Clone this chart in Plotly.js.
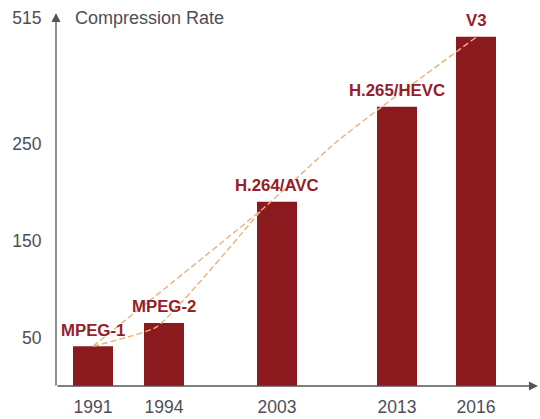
<!DOCTYPE html>
<html>
<head>
<meta charset="utf-8">
<script src="https://cdn.plot.ly/plotly-3.0.1.min.js"></script>
<style>html,body{margin:0;padding:0;background:#fff;}#chart{width:540px;height:419px;}</style>
</head>
<body>
<div id="chart"></div>
<script>
// ---- data ----
const years = ['1991', '1994', '2003', '2013', '2016'];
const codecs = ['MPEG-1', 'MPEG-2', 'H.264/AVC', 'H.265/HEVC', 'V3'];
// bar heights on the chart's (schematic) compression-rate scale
const rateLevels = [41, 65, 190, 288, 360];
const yTickVals = [50, 150, 250, 379];
const yTickText = ['50', '150', '250', '515'];
// dashed guide lines
const trendSlots = [0.925, 5.15, 7.02, 8.02, 10.52];
const trendValues = [41, 182, 252, 284, 360];
const curveSlots = [0.925, 2.52, 5.15];
const curveValues = [41, 61, 182];

// ---- layout helpers (positions, not data) ----
const slot = [0.925, 2.7, 5.525, 8.525, 10.5];
const barColor = '#8b1a1f';
const labelColor = '#952029';
const grey = '#4e4e58';
const dashColor = '#e9b27c';
const font = 'Liberation Sans, Arial, Helvetica, sans-serif';

const traces = [
  {
    type: 'bar', x: slot, y: rateLevels, width: 1,
    marker: {color: barColor, line: {width: 0}},
    hoverinfo: 'skip'
  },
  {
    type: 'scatter', mode: 'lines',
    x: trendSlots, y: trendValues,
    line: {color: dashColor, width: 1.4, dash: '6px,3px', shape: 'spline', smoothing: 0.4},
    hoverinfo: 'skip'
  },
  {
    type: 'scatter', mode: 'lines',
    x: curveSlots, y: curveValues,
    line: {color: dashColor, width: 1.4, dash: '6px,3px', shape: 'spline', smoothing: 0.4},
    hoverinfo: 'skip'
  }
];

const annotations = codecs.map((c, i) => ({
  x: slot[i], y: rateLevels[i], xref: 'x', yref: 'y',
  text: '<b>' + c + '</b>', showarrow: false,
  yanchor: 'middle', yshift: 16,
  font: {family: font, size: 16.8, color: labelColor}
}));

// axis arrows
annotations.push({
  xref: 'paper', yref: 'paper', x: 0, y: 1.0108, text: '',
  showarrow: true, ax: 0, ay: 374, axref: 'pixel', ayref: 'pixel',
  arrowhead: 2, arrowsize: 1.4, arrowwidth: 1.3, arrowcolor: '#555', standoff: 0
});
annotations.push({
  xref: 'paper', yref: 'paper', x: 1.0063, y: 0, text: '',
  showarrow: true, ax: -482, ay: 0, axref: 'pixel', ayref: 'pixel',
  arrowhead: 2, arrowsize: 1.4, arrowwidth: 1.3, arrowcolor: '#555', standoff: 0
});
// y axis title
annotations.push({
  xref: 'paper', yref: 'y', x: (73 - 56) / 479, y: 379, text: 'Compression Rate',
  showarrow: false, xanchor: 'left', yanchor: 'middle',
  font: {family: font, size: 18, color: grey}
});

const layout = {
  width: 540, height: 419,
  margin: {l: 56, r: 5, t: 17, b: 33, pad: 0},
  paper_bgcolor: '#fff', plot_bgcolor: '#fff',
  showlegend: false,
  xaxis: {
    range: [0, 11.975], tickvals: slot, ticktext: years,
    showgrid: false, zeroline: false, showline: false,
    ticks: 'outside', ticklen: 5, tickcolor: 'rgba(0,0,0,0)',
    tickfont: {family: font, size: 17.5, color: grey}, fixedrange: true
  },
  yaxis: {
    range: [0, 380.4], tickvals: yTickVals, ticktext: yTickText,
    showgrid: false, zeroline: false, showline: false,
    ticks: 'outside', ticklen: 10, tickcolor: 'rgba(0,0,0,0)',
    tickfont: {family: font, size: 17.5, color: grey}, fixedrange: true
  },
  annotations: annotations
};

Plotly.newPlot('chart', traces, layout, {displayModeBar: false, staticPlot: true});
</script>
</body>
</html>
